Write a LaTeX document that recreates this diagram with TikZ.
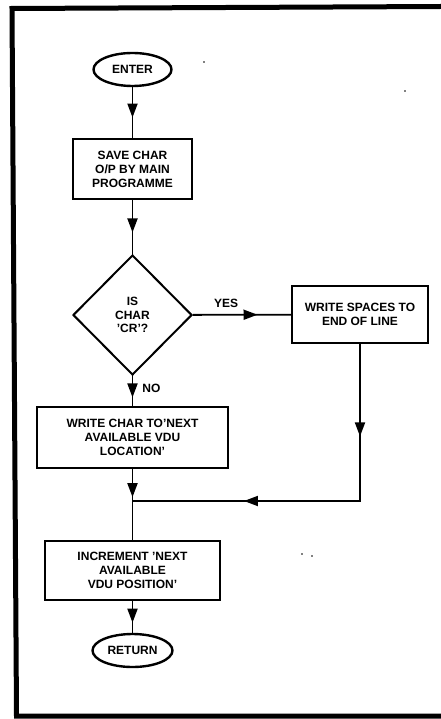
\documentclass[tikz,border=0pt]{standalone}
\usepackage{fontspec}
\setmainfont{Liberation Sans}
\usetikzlibrary{shapes.geometric,arrows.meta,decorations.markings}
\tikzset{
	flowbox/.style={draw,line width=2.4pt,align=center,inner sep=0pt,font=\fontsize{12}{14}\selectfont\bfseries},
	termnode/.style={draw,ellipse,line width=2.4pt,inner sep=0pt,minimum height=33pt,font=\fontsize{12}{14}\selectfont\bfseries},
	flowline/.style={line width=1.8pt},
	arrowat/.style={postaction={decorate},decoration={markings,mark=at position #1 with {\arrow{Triangle[length=14pt,width=10pt]}}}},
	arrowtwo/.style 2 args={postaction={decorate},decoration={markings,
		mark=at position #1 with {\arrow{Triangle[length=14pt,width=10pt]}},
		mark=at position #2 with {\arrow{Triangle[length=14pt,width=10pt]}}}},
	flowlabel/.style={font=\fontsize{12}{14}\selectfont\bfseries,inner sep=0pt}
}
\begin{document}
\begin{tikzpicture}[x=1pt,y=-1pt]
		\useasboundingbox (0,0) rectangle (441,719);
		\draw[line width=5pt] (441,6.5) -- (12,8.5) -- (16.5,716) -- (441,716);
		
		\node[termnode,minimum width=78pt] (enter) at (132.5,69.5) {ENTER};
		\node[flowbox,minimum width=119pt,minimum height=60pt] (save) at (132.5,169) {SAVE CHAR\\O/P BY MAIN\\PROGRAMME};
		\node[draw,diamond,line width=2pt,inner sep=0pt,minimum width=119pt,minimum height=120pt,align=center,font=\fontsize{12}{13.5}\selectfont\bfseries] (iscr) at (132.5,315) {IS\\CHAR\\'CR'?};
		\node[flowbox,minimum width=136pt,minimum height=57pt] (spaces) at (360,314.5) {WRITE SPACES TO\\END OF LINE};
		\node[flowbox,minimum width=191pt,minimum height=61pt] (write) at (132.5,437.5) {WRITE CHAR TO'NEXT\\AVAILABLE VDU\\LOCATION'};
		\node[flowbox,minimum width=175pt,minimum height=59pt] (incr) at (132.5,570.5) {INCREMENT 'NEXT\\AVAILABLE\\VDU POSITION'};
		\node[termnode,minimum width=80pt] (return) at (132.5,650.5) {RETURN};
		\coordinate (join) at (132.5,501);
		
		\draw[flowline,arrowat=0.6] (enter) -- (save);
		\draw[flowline,arrowat=0.6] (save) -- (iscr);
		\draw[flowline,arrowat=0.66] (iscr) -- node[flowlabel,above=6pt,pos=0.34] (yes) {YES} (spaces);
		\draw[flowline,arrowat=0.72] (iscr) -- node[flowlabel,right=9pt,pos=0.4] (no) {NO} (write);
		\draw[flowline,arrowtwo={0.24}{0.71}] (spaces) |- (join);
		\draw[flowline,arrowat=0.88] (write) -- (join);
		\draw[flowline] (join) -- (incr);
		\draw[flowline,arrowat=0.68] (incr) -- (return);
		
		% specks
		\fill (204,62) circle (0.8);
		\fill (405,91) circle (0.8);
		\fill (302,554) circle (0.8);
		\fill (312,556) circle (0.8);
	\end{tikzpicture}
\end{document}
